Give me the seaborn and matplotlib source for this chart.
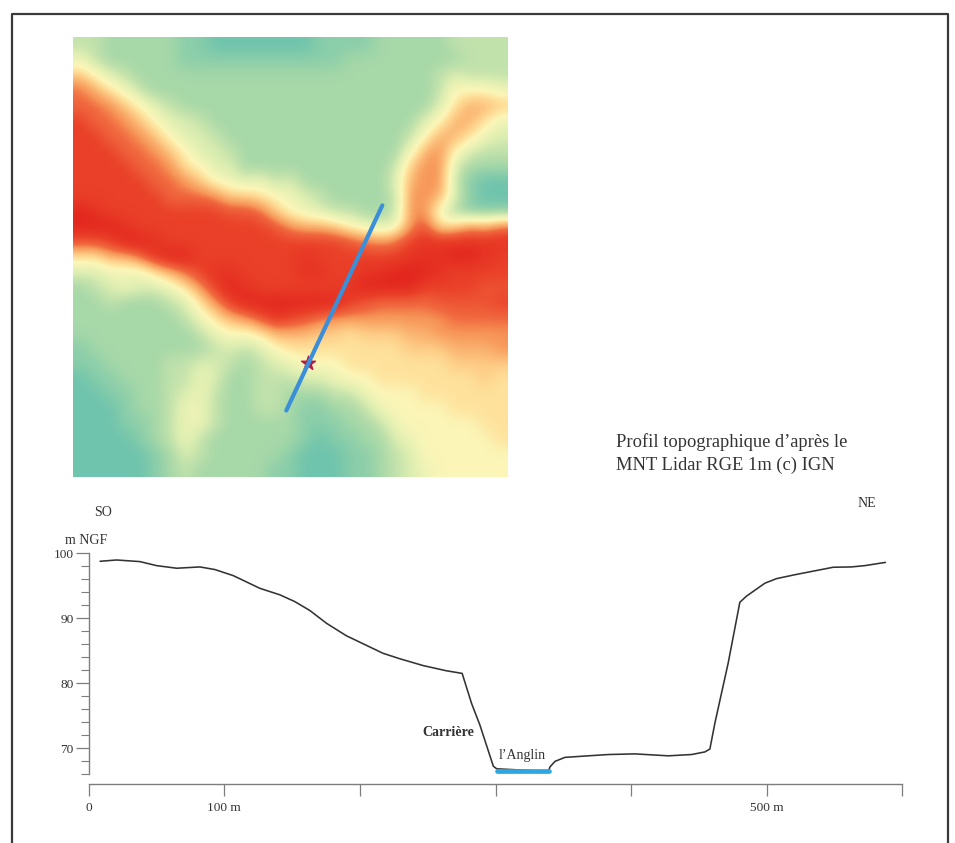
# -*- coding: utf-8 -*-
"""Carte MNT et profil topographique SO-NE (vallée de l'Anglin)."""

import numpy as np
import pandas as pd
import matplotlib
matplotlib.use("Agg")
import matplotlib.pyplot as plt
from matplotlib.lines import Line2D
from matplotlib.colors import LinearSegmentedColormap
from matplotlib.ticker import MultipleLocator
import seaborn as sns

W, H = 955, 843

# classes d'altitude du MNT en hexa, 0 = fond de vallée, f = plateau
dem_rows = [
    "ccddd ddeef fffff feeee ddddd cccc",
    "acddd ddeee eeeee eeedd ddddd dccc",
    "79bcd ddddd ddddd ddddd ddddc bccc",
    "468ac ddddd ddddd ddddd ddddc 999a",
    "44579 bcddd ddddd ddddd ddddb 8667",
    "24457 9bbcd ddddd ddddd dddb9 668a",
    "22445 79bbc ddddd ddddd ddc96 68ab",
    "22244 579bb cdddd ddddd dda65 9bcc",
    "22224 4589b bdddd ddddd dc755 bddd",
    "22222 44579 abacb ddddd db655 ceff",
    "22222 24445 7789a bcddd dc556 beff",
    "01222 22222 33479 abccd dc55a deee",
    "00012 22222 22235 6679a ba538 7564",
    "33200 12222 22222 22234 54211 1111",
    "88664 10022 22222 12222 22111 0012",
    "bbaaa 86421 12222 11221 10001 2222",
    "dcbab ba852 01222 22210 00022 2233",
    "ddcdd dcb85 20000 00023 44443 3332",
    "ddddd ddca8 65312 34555 55555 4444",
    "ddddd dddca 99866 67787 77665 5555",
    "edddd ddddc bcb98 88888 88777 6665",
    "eeddd dccbb cdcba 99988 88888 7777",
    "feedd dccab ddccc bba99 88888 8878",
    "ffeed dcbac ddccd ddcca 99988 8888",
    "fffed dcaac ddccd eeddc a9999 8888",
    "fffee dcaac ddddd eeedd ca999 9988",
    "ffffe dcacd ddddd efeed dba99 9998",
    "fffff edbcd dddde fffee dcb99 9999",
    "fffff edcdd dddee fffee dcba9 9999",
]
dem_colors = ["#e3261f", "#e63323", "#ea4029", "#ed5534", "#f0693f", "#f69557",
              "#fab06e", "#fdcb85", "#fee29c", "#fbf6b8", "#edf3b5", "#dcedb1",
              "#c2e2ac", "#a7d8a8", "#8bceaa", "#6fc4ad"]

# trace de la coupe sur la carte (colonne, ligne de la grille)
section_col = [13.72, 20.12]
section_row = [24.12, 10.60]
quarry_col = [15.17]
quarry_row = [20.97]

# profil : distance en m, altitude en m NGF
profile_dist = [8.4, 20.6, 37.8, 50.1, 64.9, 82, 93, 106.6, 126.3, 141, 152, 163,
                175.5, 190, 202.5, 217, 229.5, 246.7, 263.9, 275.4, 282.3, 288.4,
                298.4, 300.9, 339, 340.2, 343.9, 351.2, 368.4, 383.2, 402.8, 427.4,
                444.6, 454.4, 458.1, 461.8, 471.6, 480.2, 485.1, 498.7, 507.3,
                520.8, 535.5, 549, 562.5, 572.4, 587.6]
profile_alt = [98.77, 98.97, 98.72, 98.1, 97.7, 97.9, 97.5, 96.56, 94.6, 93.6, 92.56,
               91.2, 89.2, 87.3, 86.05, 84.6, 83.75, 82.7, 81.9, 81.5, 76.9, 73.6,
               67.2, 66.8, 66.4, 67.1, 67.95, 68.56, 68.8, 69.0, 69.1, 68.8,
               69.0, 69.4, 69.85, 73.85, 83.1, 92.46, 93.4, 95.4, 96.1,
               96.7, 97.3, 97.85, 97.9, 98.1, 98.6]
river_dist = [300.9, 339.4]
river_alt = [66.5, 66.5]

x_ticks = [0, 100, 200, 300, 400, 500, 600]
x_labels = ["0", "100 m", "", "", "", "500 m", ""]
y_ticks = [70, 80, 90, 100]

sns.set_theme(style="white")
plt.rcParams["font.family"] = ["Liberation Serif", "DejaVu Serif"]

TXT = "#333333"
AXC = "#7d7d7d"


def px_axes(fig, x0, y0, x1, y1):
    """Axes placés en pixels de l'image (origine en haut à gauche)."""
    return fig.add_axes([x0 / W, 1 - y1 / H, (x1 - x0) / W, (y1 - y0) / H])


def px_text(fig, x, y, s, **kw):
    kw.setdefault("color", TXT)
    kw.setdefault("fontsize", 10)
    kw.setdefault("va", "center")
    fig.text(x / W, 1 - y / H, s, **kw)


fig = plt.figure(figsize=(W / 100, H / 100), dpi=100, facecolor="white")

# cadre de la page, ouvert en bas
frame_x = [11.5 / W, 11.5 / W, 948 / W, 948 / W]
frame_y = [0, 1 - 13.5 / H, 1 - 13.5 / H, 0]
fig.add_artist(Line2D(frame_x, frame_y, color="#3a3a3a", lw=1.6))

# carte
ax_map = px_axes(fig, 73, 37, 508, 477)
dem = np.array([[int(c, 16) for c in row.replace(" ", "")] for row in dem_rows], dtype=float)
cmap = LinearSegmentedColormap.from_list("mnt", sns.blend_palette(dem_colors, 16))
ax_map.imshow(dem, cmap=cmap, vmin=0, vmax=15, aspect="auto", interpolation="bicubic")
ax_map.scatter(quarry_col, quarry_row, marker="*", s=110, color="#b5174f", zorder=3)
sns.lineplot(x=section_col, y=section_row, ax=ax_map, color="#3a8fd8", lw=3.0,
             sort=False, estimator=None, zorder=4)
ax_map.set_xlim(-0.5, dem.shape[1] - 0.5)
ax_map.set_ylim(dem.shape[0] - 0.5, -0.5)
ax_map.axis("off")

# profil
ax = px_axes(fig, 88.7, 553.3, 902.3, 784)
df = pd.DataFrame({"dist": profile_dist, "alt": profile_alt})
sns.lineplot(data=df, x="dist", y="alt", ax=ax, color="#333333", lw=1.15,
             sort=False, estimator=None)
sns.lineplot(x=river_dist, y=river_alt, ax=ax, color="#2ea6e2", lw=3.4,
             sort=False, estimator=None)
ax.set_xlim(0, 600)
ax.set_ylim(64.46, 100)
ax.set_xlabel("")
ax.set_ylabel("")
ax.patch.set_alpha(0)

ax.spines["top"].set_visible(False)
ax.spines["right"].set_visible(False)
ax.spines["left"].set_bounds(66, 100)
for side in ("left", "bottom"):
    ax.spines[side].set_color(AXC)
    ax.spines[side].set_linewidth(1.0)

ax.set_xticks(x_ticks)
ax.set_xticklabels(x_labels)
ax.set_yticks(y_ticks)
ax.yaxis.set_minor_locator(MultipleLocator(2))
ax.tick_params(axis="x", which="major", bottom=True, length=8.6, width=0.9, color=AXC,
               labelsize=9.6, labelcolor=TXT, pad=4.5)
ax.tick_params(axis="y", which="major", left=True, length=9.4, width=0.9, color=AXC,
               labelsize=9.6, labelcolor=TXT, pad=1.5)
ax.tick_params(axis="y", which="minor", left=True, length=5.8, width=0.8, color=AXC)

# textes
px_text(fig, 616, 442, "Profil topographique d’après le", fontsize=13.3)
px_text(fig, 616, 465, "MNT Lidar RGE 1m (c) IGN", fontsize=13.3)
px_text(fig, 94, 513, "SO")
px_text(fig, 858, 504, "NE")
px_text(fig, 65, 540, "m NGF")
px_text(fig, 422, 733, "Carrière", fontweight="bold")
px_text(fig, 499, 756, "l’Anglin")

fig.savefig("out.png", dpi=100, facecolor="white")
plt.close(fig)
